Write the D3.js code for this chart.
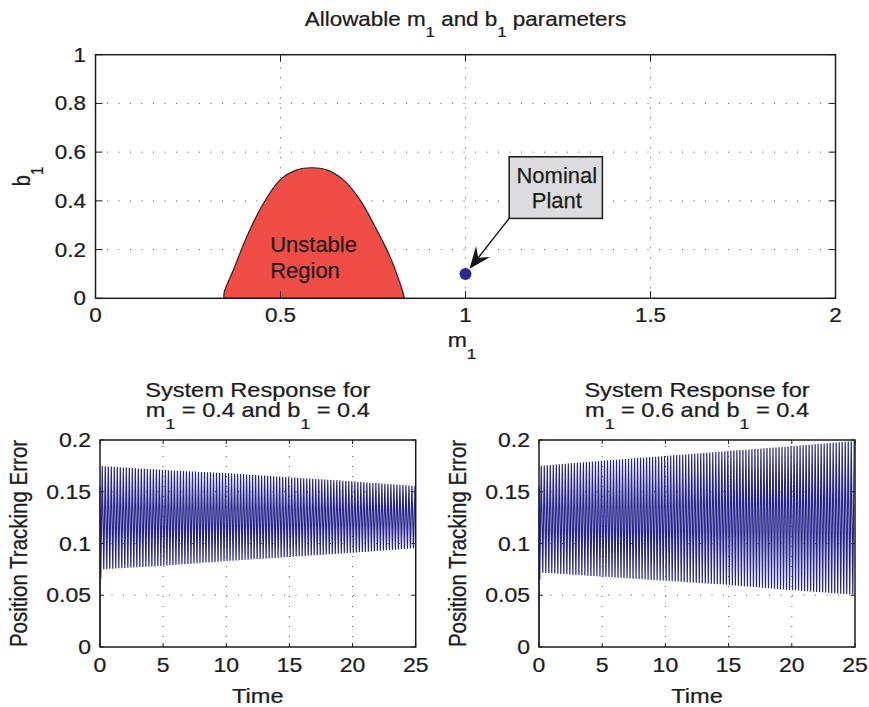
<!DOCTYPE html>
<html><head><meta charset="utf-8">
<script src="https://cdn.jsdelivr.net/npm/d3@7"></script>
<style>html,body{margin:0;padding:0;background:#fff}</style>
</head><body><svg id="c" width="869" height="707"></svg>
<script>
// ---------------- data ----------------
const topTitle = [["Allowable m"],["1",1],[" and b"],["1",1],[" parameters"]];
const mTicks = [0, 0.5, 1, 1.5, 2];
const mTickLabels = ["0", "0.5", "1", "1.5", "2"];
const bTicks = [0, 0.2, 0.4, 0.6, 0.8, 1];
const bTickLabels = ["0", "0.2", "0.4", "0.6", "0.8", "1"];
const unstableM = [0.347,0.348,0.372,0.409,0.454,0.499,0.544,0.584,0.625,0.670,0.715,0.760,0.796,0.823,0.834,0.834];
const unstableB = [0,0.025,0.114,0.253,0.390,0.486,0.527,0.536,0.527,0.486,0.404,0.281,0.171,0.062,0.007,0];
const regionText = ["Unstable", "Region"];
const regionTextM = [0.472, 0.472];
const regionTextB = [0.191, 0.082];
const nominalM = [1];
const nominalB = [0.1];
const noteText = ["Nominal", "Plant"];
const noteBoxM = [1.118, 1.370];
const noteBoxB = [0.328, 0.581];

const timeTicks = [0, 5, 10, 15, 20, 25];
const timeTickLabels = ["0", "5", "10", "15", "20", "25"];
const errTicks = [0, 0.05, 0.1, 0.15, 0.2];
const errTickLabels = ["0", "0.05", "0.1", "0.15", "0.2"];
const envT = [0, 5, 10, 15, 20, 25];
const leftUpper  = [0.175, 0.171, 0.168, 0.164, 0.160, 0.1555];
const leftLower  = [0.075, 0.0785, 0.083, 0.087, 0.091, 0.0955];
const rightUpper = [0.175, 0.180, 0.1845, 0.1894, 0.194, 0.199];
const rightLower = [0.072, 0.068, 0.064, 0.060, 0.055, 0.0505];
const startT = [0, 0, 0.06];
const leftStartV = [0, 0.155, 0.066];
const rightStartV = [0, 0.155, 0.065];
const oscFreq = 4.2; // oscillation cycles per second
const leftTitle = [[["System Response for"]], [["m"],["1",1],[" = 0.4 and b"],["1",1],[" = 0.4"]]];
const rightTitle = [[["System Response for"]], [["m"],["1",1],[" = 0.6 and b"],["1",1],[" = 0.4"]]];

// ---------------- helpers ----------------
const svg = d3.select("#c");
const INK = "#1c1c1c";
const SX = 1.15;

function label(parent, x, y, parts, o) {
  const size = o.size, sx = o.sx === undefined ? SX : o.sx;
  const g = parent.append("g").attr("transform", `translate(${x},${y}) scale(${sx},1)` + (o.rotate ? ` rotate(${o.rotate})` : ""));
  const t = g.append("text").attr("font-family", "'Liberation Sans', Arial, Helvetica, sans-serif")
    .attr("font-size", size).attr("fill", INK).attr("stroke", INK).attr("stroke-width", 0.25)
    .attr("text-anchor", o.anchor || "middle");
  let down = 0;
  parts.forEach(p => {
    const sub = !!p[1];
    const target = sub ? size * 0.58 : 0;
    t.append("tspan").attr("dy", target - down).attr("font-size", sub ? size * 0.75 : size).text(p[0]);
    down = target;
  });
  return t;
}

function axesFrame(g, x, y, xTicks, yTicks) {
  const [x0, x1] = x.range(), [y0, y1] = y.range();
  g.append("g").selectAll("line").data(xTicks.filter(v => v !== x.domain()[0] && v !== x.domain()[1])).join("line")
    .attr("x1", d => x(d)).attr("x2", d => x(d)).attr("y1", y0).attr("y2", y1)
    .attr("stroke", "#555").attr("stroke-width", 1).attr("stroke-dasharray", "1,9");
  g.append("g").selectAll("line").data(yTicks.filter(v => v !== y.domain()[0] && v !== y.domain()[1])).join("line")
    .attr("x1", x0).attr("x2", x1).attr("y1", d => y(d)).attr("y2", d => y(d))
    .attr("stroke", "#555").attr("stroke-width", 1).attr("stroke-dasharray", "1,10.5");
}
function axesBox(g, x, y, xTicks, yTicks, tickLen) {
  const [x0, x1] = x.range(), [y0, y1] = y.range();
  const tk = g.append("g").attr("stroke", INK).attr("stroke-width", 1);
  xTicks.forEach(v => {
    tk.append("line").attr("x1", x(v)).attr("x2", x(v)).attr("y1", y0).attr("y2", y0 - tickLen);
    tk.append("line").attr("x1", x(v)).attr("x2", x(v)).attr("y1", y1).attr("y2", y1 + tickLen);
  });
  yTicks.forEach(v => {
    tk.append("line").attr("x1", x0).attr("x2", x0 + tickLen).attr("y1", y(v)).attr("y2", y(v));
    tk.append("line").attr("x1", x1).attr("x2", x1 - tickLen).attr("y1", y(v)).attr("y2", y(v));
  });
  g.append("rect").attr("x", x0).attr("y", y1).attr("width", x1 - x0).attr("height", y0 - y1)
    .attr("fill", "none").attr("stroke", INK).attr("stroke-width", 1.5);
}

// ---------------- top chart ----------------
const topG = svg.append("g");
const xm = d3.scaleLinear().domain([0, 2]).range([95.5, 835.5]);
const yb = d3.scaleLinear().domain([0, 1]).range([298.3, 54.7]);
axesFrame(topG, xm, yb, mTicks, bTicks);

const regionPts = unstableM.map((m, i) => [m, unstableB[i]]);
topG.append("path")
  .attr("d", d3.line().x(d => xm(d[0])).y(d => yb(d[1])).curve(d3.curveCatmullRom.alpha(0.5))(regionPts) + "Z")
  .attr("fill", "#f04d47").attr("stroke", "#2a2222").attr("stroke-width", 1.2);
regionText.forEach((s, i) => label(topG, xm(regionTextM[i]), yb(regionTextB[i]), [[s]], {size: 22, anchor: "start", sx: 1}));

axesBox(topG, xm, yb, mTicks, bTicks, 7);

const px = xm(nominalM[0]), py = yb(nominalB[0]);
const bx0 = xm(noteBoxM[0]), bx1 = xm(noteBoxM[1]), by0 = yb(noteBoxB[1]), by1 = yb(noteBoxB[0]);
const ang = Math.atan2(py - by1, px - bx0);
const tipX = px - Math.cos(ang) * 6.5, tipY = py - Math.sin(ang) * 6.5;
topG.append("line").attr("x1", bx0).attr("y1", by1).attr("x2", tipX - Math.cos(ang) * 10).attr("y2", tipY - Math.sin(ang) * 10)
  .attr("stroke", "#111").attr("stroke-width", 1.4);
const hl = 22, hw = 9, notch = 14;
const ux = Math.cos(ang), uy = Math.sin(ang), vx = -uy, vy = ux;
const head = [
  [tipX, tipY],
  [tipX - ux * hl + vx * hw, tipY - uy * hl + vy * hw],
  [tipX - ux * notch, tipY - uy * notch],
  [tipX - ux * hl - vx * hw, tipY - uy * hl - vy * hw]
];
topG.append("path").attr("d", "M" + head.map(p => p.join(",")).join("L") + "Z").attr("fill", "#111");
topG.append("circle").attr("cx", px).attr("cy", py).attr("r", 6).attr("fill", "#2e2a8e");
topG.append("rect").attr("x", bx0).attr("y", by0).attr("width", bx1 - bx0).attr("height", by1 - by0)
  .attr("fill", "#dcdcde").attr("stroke", "#1a1a1a").attr("stroke-width", 1.5);
noteText.forEach((s, i) => label(topG, (bx0 + bx1) / 2 + 1, by0 + 26.5 + i * 25, [[s]], {size: 22, sx: 1}));

label(svg, 465.5, 26, topTitle, {size: 19.5});
mTicks.forEach((v, i) => label(svg, xm(v), 322, [[mTickLabels[i]]], {size: 19.5}));
bTicks.forEach((v, i) => label(svg, 86, yb(v) + 7, [[bTickLabels[i]]], {size: 19.5, anchor: "end"}));
label(svg, 462, 347, [["m"], ["1", 1]], {size: 20});
label(svg, 30, 176.5, [["b"], ["1", 1]], {size: 20, rotate: -90});

// ---------------- bottom charts ----------------
function response(x0, x1, upper, lower, startV, title) {
  const g = svg.append("g");
  const xt = d3.scaleLinear().domain([0, 25]).range([x0, x1]);
  const ye = d3.scaleLinear().domain([0, 0.2]).range([647, 440]);
  axesFrame(g, xt, ye, timeTicks, errTicks);
  const up = d3.scaleLinear().domain(envT).range(upper);
  const lo = d3.scaleLinear().domain(envT).range(lower);
  const pts = startT.map((t, i) => [t, startV[i]]);
  const half = 0.5 / oscFreq;
  let k = 1;
  for (let t = startT[startT.length - 1] + half; t <= 25; t += half, k++) pts.push([t, k % 2 ? up(t) : lo(t)]);
  g.append("path").attr("d", d3.line().x(d => xt(d[0])).y(d => ye(d[1]))(pts))
    .attr("fill", "none").attr("stroke", "#26258c").attr("stroke-width", 1.2);
  axesBox(g, xt, ye, timeTicks, errTicks, 4);
  const cx = (x0 + x1) / 2;
  timeTicks.forEach((v, i) => label(svg, xt(v), 672, [[timeTickLabels[i]]], {size: 20}));
  errTicks.forEach((v, i) => label(svg, x0 - 9, ye(v) + 7, [[errTickLabels[i]]], {size: 20, anchor: "end"}));
  label(svg, cx, 397, title[0], {size: 20.5});
  label(svg, cx, 417, title[1], {size: 20.5});
  label(svg, cx, 703, [["Time"]], {size: 20.5});
  label(svg, x0 - 73, 543.5, [["Position Tracking Error"]], {size: 20.5, rotate: -90});
}
response(100, 415.7, leftUpper, leftLower, leftStartV, leftTitle);
response(539, 855, rightUpper, rightLower, rightStartV, rightTitle);
</script></body></html>
